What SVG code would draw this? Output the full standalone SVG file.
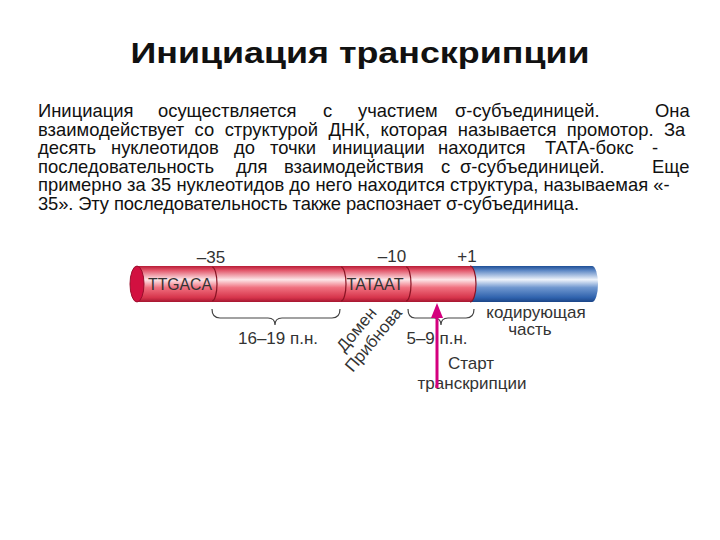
<svg xmlns="http://www.w3.org/2000/svg" width="720" height="540" viewBox="0 0 720 540">
<defs>
<linearGradient id="red" x1="0" y1="0" x2="0" y2="1">
<stop offset="0" stop-color="#b81c36"/>
<stop offset="0.12" stop-color="#e2566a"/>
<stop offset="0.38" stop-color="#fde6e8"/>
<stop offset="0.6" stop-color="#f0707f"/>
<stop offset="0.88" stop-color="#d6344b"/>
<stop offset="1" stop-color="#a51630"/>
</linearGradient>
<linearGradient id="blue" x1="0" y1="0" x2="0" y2="1">
<stop offset="0" stop-color="#1f4f96"/>
<stop offset="0.12" stop-color="#5b86c4"/>
<stop offset="0.38" stop-color="#eef3fb"/>
<stop offset="0.6" stop-color="#6f97cf"/>
<stop offset="0.88" stop-color="#2f62ad"/>
<stop offset="1" stop-color="#1b4587"/>
</linearGradient>
</defs>
<style>
.t{font-family:"Liberation Sans",Arial,sans-serif;font-size:18.4px;fill:#111}
.lbl{font-family:"Liberation Sans",Arial,sans-serif;font-size:17px;fill:#333}
.div{fill:none;stroke:#8a1424;stroke-width:1.2}
.brace{fill:none;stroke:#444;stroke-width:1.2}
</style>
<rect width="720" height="540" fill="#fff"/>
<text x="360" y="63" text-anchor="middle" textLength="459" lengthAdjust="spacingAndGlyphs" style="font-family:'Liberation Sans',Arial,sans-serif;font-size:29px;font-weight:bold;fill:#111">Инициация транскрипции</text>

<g id="paragraph">
<text class="t" y="117"><tspan x="38">Инициация</tspan><tspan x="158">осуществляется</tspan><tspan x="323">с</tspan><tspan x="358">участием</tspan><tspan x="455">σ-субъединицей.</tspan><tspan x="655">Она</tspan></text>
<text class="t" x="38" y="136" word-spacing="5.3">взаимодействует со структурой ДНК, которая называется промотор. За</text>
<text class="t" y="154"><tspan x="38">десять</tspan><tspan x="111">нуклеотидов</tspan><tspan x="234">до</tspan><tspan x="270">точки</tspan><tspan x="332">инициации</tspan><tspan x="438">находится</tspan><tspan x="545">ТАТА-бокс</tspan><tspan x="652">-</tspan></text>
<text class="t" y="173"><tspan x="38">последовательность</tspan><tspan x="236">для</tspan><tspan x="284">взаимодействия</tspan><tspan x="441">с</tspan><tspan x="460">σ-субъединицей.</tspan><tspan x="652">Еще</tspan></text>
<text class="t" x="38" y="191">примерно за 35 нуклеотидов до него находится структура, называемая «-</text>
<text class="t" x="38" y="210" textLength="541" lengthAdjust="spacing">35». Эту последовательность также распознает σ-субъединица.</text>
</g>

<g id="dna">
<path d="M470,266 H592 A6,18 0 0 1 592,302 H470 Z" fill="url(#blue)"/>
<path d="M137,266 H470 A6,18 0 0 1 470,302 H137 Z" fill="url(#red)"/>
<path d="M470,266 A6,18 0 0 1 470,302" class="div" stroke-width="0.8"/>
<ellipse cx="137" cy="284" rx="7" ry="18" fill="#d21040" stroke="#9a0e2c" stroke-width="1"/>
<path class="div" d="M212,267 A5,17 0 0 1 212,301"/>
<path class="div" d="M341,267 A5,17 0 0 1 341,301"/>
<path class="div" d="M406,267 A5,17 0 0 1 406,301"/>
</g>

<g id="labels">
<text class="lbl" x="211" y="263" text-anchor="middle">–35</text>
<text class="lbl" x="392" y="262" text-anchor="middle">–10</text>
<text class="lbl" x="467" y="262" text-anchor="middle">+1</text>
<text class="lbl" x="180" y="290" text-anchor="middle" textLength="64" lengthAdjust="spacingAndGlyphs">TTGACA</text>
<text class="lbl" x="375" y="290" text-anchor="middle" textLength="57" lengthAdjust="spacingAndGlyphs">TATAAT</text>
<text class="lbl" x="278" y="344" text-anchor="middle">16–19 п.н.</text>
<text class="lbl" x="437" y="344" text-anchor="middle">5–9 п.н.</text>
<text class="lbl" x="536" y="318" text-anchor="middle">кодирующая</text>
<text class="lbl" x="530" y="335" text-anchor="middle">часть</text>
<text class="lbl" x="471" y="369" text-anchor="middle">Старт</text>
<text class="lbl" x="472" y="389" text-anchor="middle">транскрипции</text>
<text class="lbl" x="357" y="335" text-anchor="middle" transform="rotate(-50 357 330)">Домен</text>
<text class="lbl" x="374" y="345" text-anchor="middle" transform="rotate(-50 374 340)">Прибнова</text>
</g>

<g id="connectors">
<path class="brace" d="M212,309 Q212,318 220,318 H268 Q275,318 275,325 Q275,318 282,318 H332 Q340,318 340,309"/>
<path class="brace" d="M408,309 Q408,318 415,318 H434 Q441,318 441,325 Q441,318 448,318 H466 Q474,318 474,309"/>
<line x1="437" y1="388" x2="437" y2="314" stroke="#d4007e" stroke-width="3"/>
<polygon points="437,303 431,318 443,318" fill="#d4007e"/>
</g>
</svg>
